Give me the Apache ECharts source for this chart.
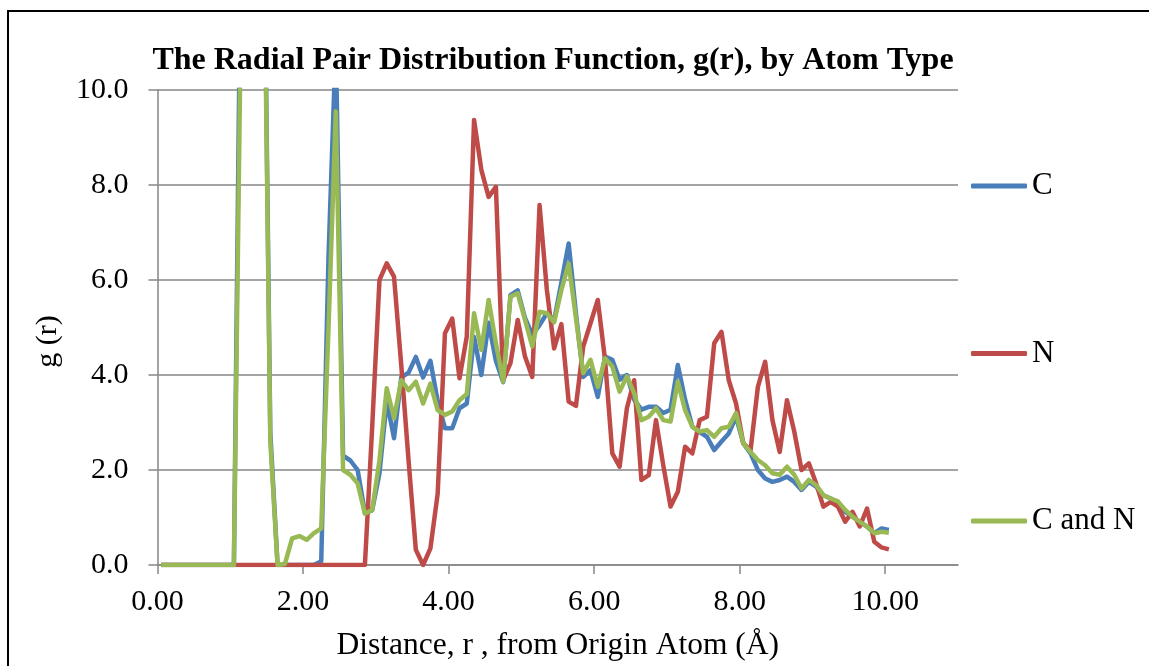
<!DOCTYPE html>
<html><head><meta charset="utf-8">
<script src="https://cdn.jsdelivr.net/npm/echarts@6/dist/echarts.min.js"></script>
<style>html,body{margin:0;padding:0;background:#fff}#c{width:1149px;height:666px}</style>
</head><body><div id="c"></div>
<script>
// Distance r (Å)
const r = [
  0.05,0.15,0.25,0.35,0.45,0.55,0.65,0.75,0.85,0.95,
  1.05,1.15,1.25,1.35,1.45,1.55,1.65,1.75,1.85,1.95,
  2.05,2.15,2.25,2.35,2.45,2.55,2.65,2.75,2.85,2.95,
  3.05,3.15,3.25,3.35,3.45,3.55,3.65,3.75,3.85,3.95,
  4.05,4.15,4.25,4.35,4.45,4.55,4.65,4.75,4.85,4.95,
  5.05,5.15,5.25,5.35,5.45,5.55,5.65,5.75,5.85,5.95,
  6.05,6.15,6.25,6.35,6.45,6.55,6.65,6.75,6.85,6.95,
  7.05,7.15,7.25,7.35,7.45,7.55,7.65,7.75,7.85,7.95,
  8.05,8.15,8.25,8.35,8.45,8.55,8.65,8.75,8.85,8.95,
  9.05,9.15,9.25,9.35,9.45,9.55,9.65,9.75,9.85,9.95,
  10.05
];
// g(r) for C
const gC = [
  0,0,0,0,0,0,0,0,0,0,
  0,14,25,30,15.5,2.8,0,0,0,0,
  0,0,0.08,6.5,11,2.3,2.2,2.0,1.1,1.15,
  1.93,3.45,2.67,3.95,4.05,4.38,3.95,4.3,3.45,2.88,
  2.88,3.3,3.4,4.8,4.0,5.1,4.3,3.85,5.68,5.78,
  5.2,4.85,5.05,5.3,5.15,5.95,6.77,5.3,3.96,4.1,
  3.54,4.39,4.32,3.9,4.0,3.48,3.27,3.33,3.33,3.2,
  3.27,4.21,3.48,2.91,2.8,2.7,2.42,2.6,2.77,3.12,
  2.56,2.35,2.0,1.82,1.75,1.79,1.86,1.75,1.58,1.75,
  1.65,1.47,1.4,1.3,1.12,1.02,0.91,0.81,0.67,0.77,
  0.74
];
// g(r) for N
const gN = [
  0,0,0,0,0,0,0,0,0,0,
  0,0,0,0,0,0,0,0,0,0,
  0,0,0,0,0,0,0,0,0,2.9,
  6.0,6.35,6.07,4.2,2.2,0.32,0.0,0.35,1.5,4.88,
  5.19,3.93,4.81,9.37,8.32,7.75,7.96,3.89,4.25,5.16,
  4.39,3.96,7.58,5.8,4.56,5.07,3.44,3.35,4.6,5.09,
  5.58,4.32,2.35,2.07,3.3,3.89,1.79,1.89,3.05,2.1,
  1.23,1.54,2.49,2.35,3.05,3.12,4.67,4.91,3.89,3.4,
  2.56,2.42,3.75,4.28,3.05,2.38,3.47,2.81,2.0,2.14,
  1.72,1.23,1.33,1.23,0.91,1.12,0.81,1.19,0.49,0.37,
  0.33
];
// g(r) for C and N
const gCN = [
  0,0,0,0,0,0,0,0,0,0,
  0,12,25,30,15,2.6,0,0.02,0.56,0.61,
  0.53,0.67,0.77,5.0,9.55,2.0,1.9,1.72,1.08,1.16,
  2.2,3.72,3.09,3.89,3.68,3.86,3.4,3.82,3.26,3.16,
  3.23,3.47,3.6,5.3,4.53,5.58,4.67,3.86,5.65,5.72,
  5.16,4.6,5.33,5.3,5.11,5.79,6.35,5.2,4.04,4.32,
  3.75,4.35,4.18,3.65,3.97,3.62,3.05,3.12,3.3,3.05,
  3.02,3.86,3.26,2.91,2.81,2.84,2.7,2.88,2.91,3.2,
  2.56,2.38,2.21,2.1,1.93,1.9,2.07,1.9,1.61,1.79,
  1.68,1.47,1.4,1.34,1.16,1.02,0.91,0.81,0.67,0.7,
  0.68
];
const seriesNames = ['C', 'N', 'C and N'];
const xTicks = [0, 2, 4, 6, 8, 10];

const font = '"Liberation Serif", "Times New Roman", serif';
const gray = '#868686';
const colors = ['#4A7EBB', '#BE4B48', '#98B954'];
const chart = echarts.init(document.getElementById('c'), null, {renderer: 'canvas'});
const mk = (arr) => r.map((x, i) => [x, arr[i]]);
const allData = [gC, gN, gCN];

chart.setOption({
  animation: false,
  backgroundColor: '#fff',
  textStyle: {fontFamily: font},
  title: {
    text: 'The Radial Pair Distribution Function, g(r), by Atom Type',
    left: 548, textAlign: 'center', top: 40,
    textStyle: {fontFamily: font, fontWeight: 'bold', fontSize: 32, color: '#000'}
  },
  graphic: [{
    type: 'rect', shape: {x: 8, y: 11, width: 1170, height: 700},
    style: {fill: 'none', stroke: '#000', lineWidth: 2}, silent: true, z: 100
  }],
  grid: {left: 157.5, right: 191, top: 90, bottom: 101, containLabel: false, outerBoundsMode: 'none'},
  legend: {
    orient: 'vertical', left: 966, top: 164, itemGap: 133.5,
    itemWidth: 56, itemHeight: 5, icon: 'roundRect',
    textStyle: {fontFamily: font, fontSize: 31, color: '#000', lineHeight: 34},
    data: seriesNames
  },
  xAxis: {
    type: 'value', min: 0, max: 11, interval: 2,
    axisLine: {show: true, lineStyle: {color: gray, width: 1.5}},
    axisTick: {show: true, inside: false, length: 9, customValues: xTicks, lineStyle: {color: gray, width: 1.5}},
    axisLabel: {customValues: xTicks, formatter: v => v.toFixed(2), fontFamily: font, fontSize: 30, color: '#000', margin: 22},
    splitLine: {show: false},
    name: 'Distance, r , from Origin Atom (Å)', nameLocation: 'middle', nameGap: 65,
    nameTextStyle: {fontFamily: font, fontSize: 31.5, color: '#000'}
  },
  yAxis: {
    type: 'value', min: 0, max: 10, interval: 2,
    axisLine: {show: true, lineStyle: {color: gray, width: 1.5}},
    axisTick: {show: true, inside: false, length: 9, lineStyle: {color: gray, width: 1.5}},
    axisLabel: {formatter: v => v.toFixed(1), fontFamily: font, fontSize: 30, color: '#000', margin: 29, padding: [6, 0, 0, 0]},
    splitLine: {show: true, lineStyle: {color: gray, width: 1.5}},
    name: 'g (r)', nameLocation: 'middle', nameGap: 94, nameRotate: 90,
    nameTextStyle: {fontFamily: font, fontSize: 30, color: '#000', padding: [0, 28, 0, 0]}
  },
  series: seriesNames.map((n, i) => ({
    name: n, type: 'line', data: mk(allData[i]),
    showSymbol: false, symbol: 'none', clip: true,
    color: colors[i],
    lineStyle: {width: 4.5, color: colors[i], join: 'round'},
    itemStyle: {color: colors[i]},
    emphasis: {disabled: true}
  }))
});
</script>
</body></html>
